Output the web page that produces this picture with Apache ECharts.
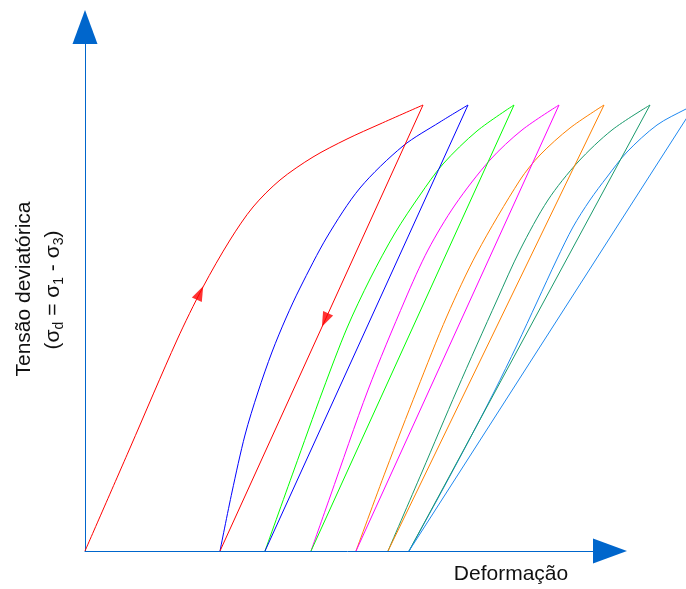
<!DOCTYPE html>
<html>
<head>
<meta charset="utf-8">
<script src="https://cdn.jsdelivr.net/npm/echarts@6/dist/echarts.min.js"></script>
<style>
html,body{margin:0;padding:0;background:#fff;}
#chart{width:686px;height:589px;}
</style>
</head>
<body>
<div id="chart"></div>
<script>
// Loading curves (deformation, deviator stress)
const loadRed = [[0,0],[45,103],[92,211],[118,264],[145,311],[168,344],[195,371],[228,394],[262,412],[295,427],[338,446]];
const loadBlue = [[135,0],[147,59],[160,116],[173,159],[187,199],[201,233],[215,263],[242,314],[275,363],[318,405],[355,429],[383,446]];
const loadGreen = [[180,0],[209,81],[238,161],[262,223],[285,272],[310,318],[335,356],[358,387],[392,420],[429,446]];
const loadMagenta = [[226,0],[245,54],[283,161],[320,251],[343,301],[370,346],[405,391],[437,421],[474,446]];
const loadOrange = [[271,0],[301,81],[332,161],[362,235],[392,298],[435,371],[455,396],[485,423],[519,446]];
const loadDarkGreen = [[303,0],[337,79],[372,161],[412,251],[435,301],[463,351],[493,389],[527,421],[565,446]];
const loadLightBlue = [[324,0],[352,51],[381,105],[409,159],[432,206],[452,249],[472,292],[488,324],[505,351],[522,374],[542,399],[572,426],[601,442],[610,446]];

// Unloading lines (peak -> residual deformation)
const unloadRed = [[338,446],[135,0]];
const unloadBlue = [[383,446],[180,0]];
const unloadGreen = [[429,446],[226,0]];
const unloadMagenta = [[474,446],[271,0]];
const unloadOrange = [[519,446],[303,0]];
const unloadDarkGreen = [[565,446],[324,0]];
const unloadLightBlue = [[610,446],[324,0]];

// Direction arrows on first cycle
const arrowUp = [[115,258]];
const arrowDown = [[240,231]];

// Axis extents: drawn axis (with arrowheads) and full plotting area
const axisMax = {x: 525, y: 524};
const plotMaxX = 601;

const loads = [loadRed, loadBlue, loadGreen, loadMagenta, loadOrange, loadDarkGreen, loadLightBlue];
const unloads = [unloadRed, unloadBlue, unloadGreen, unloadMagenta, unloadOrange, unloadDarkGreen, unloadLightBlue];
const colors = ['#ff0000', '#0000ff', '#00ff00', '#ff00ff', '#ff8000', '#1a9a6c', '#1e88f0'];

const series = [];
loads.forEach(function (d, i) {
  series.push({
    type: 'line', data: d, smooth: 0.3, showSymbol: false, xAxisIndex: 0, yAxisIndex: 0,
    lineStyle: {color: colors[i], width: 1}, itemStyle: {color: colors[i]}, z: 3
  });
});
unloads.forEach(function (d, i) {
  series.push({
    type: 'line', data: d, showSymbol: false, xAxisIndex: 0, yAxisIndex: 0,
    lineStyle: {color: colors[i], width: 1}, itemStyle: {color: colors[i]}, z: 3
  });
});
series.push({
  type: 'scatter', data: arrowUp, symbol: 'triangle', symbolSize: [11, 15], symbolRotate: -25,
  xAxisIndex: 0, yAxisIndex: 0, itemStyle: {color: '#ff0000'}, z: 5
});
series.push({
  type: 'scatter', data: arrowDown, symbol: 'triangle', symbolSize: [11, 15], symbolRotate: 155.5,
  xAxisIndex: 0, yAxisIndex: 0, itemStyle: {color: '#ff0000'}, z: 5
});

const axisColor = '#0066cc';
const font = '"Liberation Sans", Arial, sans-serif';
const hidden = {axisLine: {show: false}, axisTick: {show: false}, axisLabel: {show: false}, splitLine: {show: false}};
const arrowLine = {show: true, symbol: ['none', 'triangle'], symbolSize: [25, 34], lineStyle: {color: axisColor, width: 1}};

const chart = echarts.init(document.getElementById('chart'), null, {renderer: 'canvas'});
chart.setOption({
  animation: false,
  backgroundColor: '#ffffff',
  grid: [
    {left: 85, right: 0, top: 27, bottom: 38},
    {left: 85, right: 76, top: 27, bottom: 38}
  ],
  xAxis: [
    Object.assign({type: 'value', min: 0, max: plotMaxX, gridIndex: 0}, hidden),
    {type: 'value', min: 0, max: axisMax.x, gridIndex: 1, axisLine: arrowLine,
      axisTick: {show: false}, axisLabel: {show: false}, splitLine: {show: false}}
  ],
  yAxis: [
    Object.assign({type: 'value', min: 0, max: axisMax.y, gridIndex: 0}, hidden),
    {type: 'value', min: 0, max: axisMax.y, gridIndex: 1, axisLine: arrowLine,
      axisTick: {show: false}, axisLabel: {show: false}, splitLine: {show: false}}
  ],
  graphic: [
    {
      type: 'text', x: 511, y: 574, z: 10,
      style: {text: 'Deformação', font: '21px ' + font, fill: '#111',
        align: 'center', verticalAlign: 'middle', textAlign: 'center', textVerticalAlign: 'middle'}
    },
    {
      type: 'text', x: 24, y: 289, rotation: Math.PI / 2, z: 10,
      style: {text: 'Tensão deviatórica', font: '21px ' + font, fill: '#111',
        align: 'center', verticalAlign: 'middle', textAlign: 'center', textVerticalAlign: 'middle'}
    },
    {
      type: 'text', x: 53, y: 290, rotation: Math.PI / 2, z: 10,
      style: {
        text: '{n|(σ}{s|d}{n| = σ}{s|1}{n| - σ}{s|3}{n|)}',
        fill: '#111', align: 'center', verticalAlign: 'middle', textAlign: 'center', textVerticalAlign: 'middle',
        rich: {
          n: {fontSize: 21, fontFamily: font, lineHeight: 26, fill: '#111'},
          s: {fontSize: 14, fontFamily: font, lineHeight: 12, verticalAlign: 'bottom', fill: '#111'}
        }
      }
    }
  ],
  series: series
});
</script>
</body>
</html>
